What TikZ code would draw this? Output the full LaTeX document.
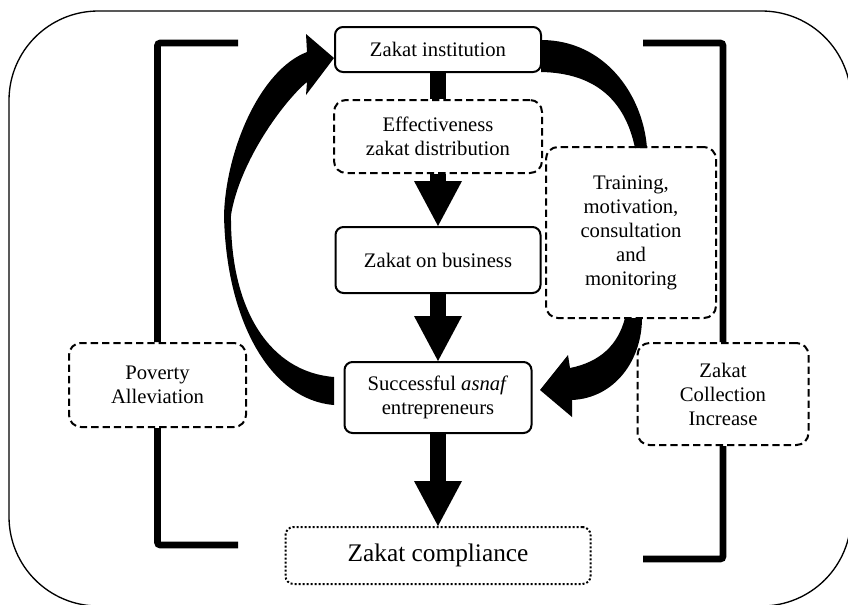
\documentclass[tikz,border=0pt]{standalone}
\usepackage{fontspec}
\setmainfont{Liberation Serif}
\usetikzlibrary{arrows.meta}

\tikzset{
  solidbox/.style={draw, line width=1.5pt, rounded corners=6pt, align=center, inner sep=2pt, fill=white,
    font=\fontsize{15.5pt}{18pt}\selectfont},
  dashbox/.style={solidbox, rounded corners=9pt, dash pattern=on 5.5pt off 3pt},
  dotbox/.style={solidbox, line width=1.5pt, dash pattern=on 1.5pt off 1.5pt,
    font=\fontsize{19pt}{22pt}\selectfont},
  bigarrow/.style={line width=12pt, -{Triangle[length=33.75pt,width=36pt,line width=0pt]}},
  bar/.style={line width=12pt},
  bracket/.style={line width=5pt, rounded corners=2pt},
}

\begin{document}
\begin{tikzpicture}[x=0.75pt,y=0.75pt,yscale=-1,xscale=1]
        \useasboundingbox (0,0) rectangle (848,604);

        %Outer frame
        \draw [line width=1pt, rounded corners=67pt] (9,11) rectangle (851,606);

        %Boxes
        \node [solidbox, minimum width=154.5pt, minimum height=33.75pt] (inst) at (438,49.5) {Zakat institution};
        \node [dashbox, minimum width=156pt, minimum height=54.75pt] (eff) at (438,136.5) {Effectiveness\\zakat distribution};
        \node [solidbox, minimum width=153.75pt, minimum height=49.5pt] (biz) at (438,260) {Zakat on business};
        \node [solidbox, minimum width=140.25pt, minimum height=53.25pt] (succ) at (438,397.5) {Successful \textit{asnaf}\\entrepreneurs};
        \node [dashbox, minimum width=127.5pt, minimum height=128.25pt] (train) at (631,232.5) {Training,\\motivation,\\consultation\\and\\monitoring};
        \node [dashbox, minimum width=132.75pt, minimum height=63pt] (pov) at (157.5,385) {Poverty\\Alleviation};
        \node [dashbox, minimum width=128.25pt, minimum height=76.5pt] (coll) at (723,394) {Zakat\\Collection\\Increase};
        \node [dotbox, minimum width=228.75pt, minimum height=42.75pt] (comp) at (438,555.5) {Zakat compliance};

        %Straight arrows
        \draw [bar] (inst) -- (eff);
        \draw [bigarrow] (eff) -- (biz);
        \draw [bigarrow] (biz) -- (succ);
        \draw [bigarrow] (succ) -- (comp);

        %Brackets
        \coordinate (ltop) at (238,43);
        \coordinate (lbot) at (238,545);
        \coordinate (rtop) at (643,43);
        \coordinate (rbot) at (643,559);
        \draw [bracket] (ltop) -| (pov.north);
        \draw [bracket] (pov.south) |- (lbot);
        \draw [bracket] (rtop) -| (coll.north);
        \draw [bracket] (coll.south) |- (rbot);

        %Curved arrow back to the institution
        \fill (334,405) .. controls (270,400) and (226,320) .. (224,215)
              .. controls (226,150) and (260,70) .. (307,52)
              -- (306,34) -- (334,58) -- (306,95) -- (307,82)
              .. controls (285,100) and (240,160) .. (231,215)
              .. controls (230,310) and (270,372) .. (334,377) -- cycle;

        %Curved arrow through the training box
        \fill (541,40) .. controls (605,40) and (643,95) .. (647,148)
              -- (635,148) .. controls (625,100) and (595,73) .. (541,72) -- cycle;
        \fill (625,318) .. controls (618,345) and (600,362) .. (570,368)
              -- (568,355) -- (540,390) -- (572,417) -- (572,400)
              .. controls (615,398) and (642,360) .. (642,318) -- cycle;

\end{tikzpicture}
\end{document}
